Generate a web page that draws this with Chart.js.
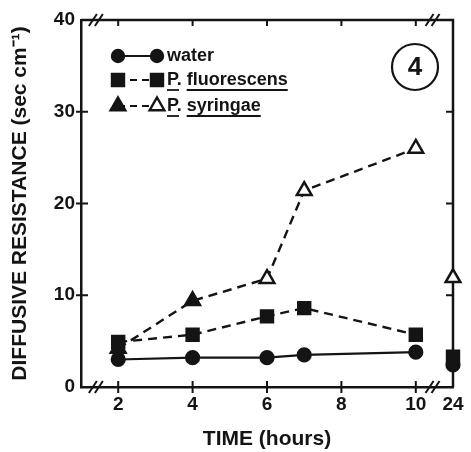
<!DOCTYPE html>
<html>
<head>
<meta charset="utf-8">
<script src="https://cdn.jsdelivr.net/npm/chart.js@4.4.1/dist/chart.umd.min.js"></script>
<style>
  html, body { margin: 0; padding: 0; background: #fff; }
  #wrap { width: 471px; height: 452px; }
</style>
</head>
<body>
<div id="wrap"><canvas id="fig" width="471" height="452"></canvas></div>
<script>
// sampling times (hours); the 24 h reading sits after the axis break
const hours = [2, 4, 6, 7, 10, 24];
const water = [3.0, 3.2, 3.2, 3.5, 3.8, 2.4];
const fluorescens = [4.9, 5.7, 7.7, 8.6, 5.7, 3.3];
const syringae = [4.2, 9.4, 11.8, 21.4, 26.0, 11.9];
const syringaeFilled = [true, true, false, false, false, false];
const xTicks = [2, 4, 6, 8, 10, 24];
const yTicks = [0, 10, 20, 30, 40];
const legendLabels = ['water', 'P. fluorescens', 'P. syringae'];
const panelLabel = '4';

const INK = '#141414';
const FONT = "'Liberation Sans', Arial, Helvetica, sans-serif";

// broken time axis: 24 h drawn right after 10 h
const BREAK_AT = 11;
const axisPos = h => (h === 24 ? BREAK_AT : h);
const toPoints = vals => hours.map((h, i) => ({ x: axisPos(h), y: vals[i] }));
// no line across the break
const skipBreak = color => ctx => (hours[ctx.p1DataIndex] === 24 ? 'rgba(0,0,0,0)' : color);

const frame = {
    id: 'frame',
    beforeDatasetsDraw(chart) {
        const { ctx, chartArea: a, scales: { x, y } } = chart;
        ctx.save();
        ctx.strokeStyle = INK;
        ctx.lineWidth = 2.5;
        ctx.lineCap = 'butt';
        // top and right edge of the box
        ctx.beginPath();
        ctx.moveTo(a.left, a.top);
        ctx.lineTo(a.right, a.top);
        ctx.lineTo(a.right, a.bottom);
        ctx.stroke();

        ctx.lineWidth = 2;
        xTicks.filter(t => t !== 24).forEach(t => {
            const px = x.getPixelForValue(axisPos(t));
            ctx.beginPath();
            ctx.moveTo(px, a.bottom - 6);
            ctx.lineTo(px, a.bottom + 6);
            ctx.moveTo(px, a.top);
            ctx.lineTo(px, a.top + 6);
            ctx.stroke();
        });
        yTicks.filter(t => t > 0 && t < 40).forEach(t => {
            const py = y.getPixelForValue(t);
            ctx.beginPath();
            ctx.moveTo(a.left - 5, py);
            ctx.lineTo(a.left + 7, py);
            ctx.moveTo(a.right, py);
            ctx.lineTo(a.right - 7, py);
            ctx.stroke();
        });

        // break marks "//"
        const breaks = [1.4, 10.45];
        [a.bottom, a.top].forEach(edge => {
            breaks.forEach(b => {
                const px = x.getPixelForValue(b);
                [-3, 3].forEach(d => {
                    ctx.beginPath();
                    ctx.moveTo(px + d - 4, edge + 6);
                    ctx.lineTo(px + d + 4, edge - 6);
                    ctx.stroke();
                });
            });
        });
        ctx.restore();
    },
    afterDraw(chart) {
        const { ctx } = chart;
        const draw = Chart.helpers.drawPoint;
        ctx.save();
        // legend
        const rows = [
            { style: 'circle', r: 6, dash: [], fills: [INK, INK], y: 56 },
            { style: 'rect', r: 8.5, dash: [7, 5], fills: [INK, INK], y: 80 },
            { style: 'triangle', r: 8.5, dash: [7, 5], fills: [INK, '#fff'], y: 106 }
        ];
        const x0 = 118, x1 = 157, tx = 167;
        rows.forEach((row, i) => {
            ctx.strokeStyle = INK;
            ctx.lineWidth = 2.2;
            ctx.setLineDash(row.dash);
            ctx.beginPath();
            ctx.moveTo(x0, row.y);
            ctx.lineTo(x1, row.y);
            ctx.stroke();
            ctx.setLineDash([]);
            [x0, x1].forEach((px, k) => {
                ctx.fillStyle = row.fills[k];
                ctx.strokeStyle = INK;
                ctx.lineWidth = 2.4;
                draw(ctx, { pointStyle: row.style, radius: row.r, borderWidth: 2.4 }, px, row.y);
                if (row.fills[k] !== '#fff') ctx.fill();
            });
            ctx.fillStyle = INK;
            ctx.font = 'bold 18px ' + FONT;
            ctx.textBaseline = 'middle';
            ctx.textAlign = 'left';
            ctx.fillText(legendLabels[i], tx, row.y);
            if (i > 0) {
                // species names are underlined word by word
                let cx = tx;
                ctx.lineWidth = 1.8;
                legendLabels[i].split(' ').forEach(w => {
                    const full = ctx.measureText(w + ' ').width;
                    const ul = ctx.measureText(w.replace(/\.$/, '')).width;
                    ctx.beginPath();
                    ctx.moveTo(cx, row.y + 10);
                    ctx.lineTo(cx + ul, row.y + 10);
                    ctx.stroke();
                    cx += full;
                });
            }
        });

        // panel number in a circle
        ctx.lineWidth = 2.2;
        ctx.strokeStyle = INK;
        ctx.beginPath();
        ctx.arc(415, 67, 23, 0, Math.PI * 2);
        ctx.stroke();
        ctx.fillStyle = INK;
        ctx.font = 'bold 26px ' + FONT;
        ctx.textAlign = 'center';
        ctx.textBaseline = 'middle';
        ctx.fillText(panelLabel, 415, 68);
        ctx.restore();
    }
};

new Chart(document.getElementById('fig'), {
    type: 'scatter',
    data: {
        datasets: [{
            label: legendLabels[0],
            data: toPoints(water),
            showLine: true,
            borderColor: INK,
            borderWidth: 2.2,
            pointStyle: 'circle',
            pointRadius: 6.5,
            pointBackgroundColor: INK,
            pointBorderColor: INK,
            segment: { borderColor: skipBreak(INK) },
            clip: false
        }, {
            label: legendLabels[1],
            data: toPoints(fluorescens),
            showLine: true,
            borderColor: INK,
            borderWidth: 2.4,
            borderDash: [9, 6],
            pointStyle: 'rect',
            pointRadius: 8.5,
            pointBackgroundColor: INK,
            pointBorderColor: INK,
            segment: { borderColor: skipBreak(INK) },
            clip: false
        }, {
            label: legendLabels[2],
            data: toPoints(syringae),
            showLine: true,
            borderColor: INK,
            borderWidth: 2.4,
            borderDash: [9, 6],
            pointStyle: 'triangle',
            pointRadius: 8.5,
            pointBorderWidth: 2.5,
            pointBackgroundColor: syringaeFilled.map(f => (f ? INK : '#fff')),
            pointBorderColor: INK,
            segment: { borderColor: skipBreak(INK) },
            clip: false
        }]
    },
    options: {
        responsive: false,
        devicePixelRatio: 1,
        animation: false,
        layout: { padding: { top: 20, right: 18, left: 0, bottom: 0 } },
        plugins: { legend: { display: false }, tooltip: { enabled: false } },
        scales: {
            x: {
                type: 'linear',
                min: 1,
                max: BREAK_AT,
                afterBuildTicks: s => { s.ticks = xTicks.map(t => ({ value: axisPos(t) })); },
                afterFit: s => { s.height = 65; },
                ticks: {
                    color: INK,
                    font: { family: FONT, size: 19, weight: 'bold' },
                    padding: 6,
                    maxRotation: 0,
                    autoSkip: false,
                    callback: v => (v === BREAK_AT ? '24' : v)
                },
                grid: { drawOnChartArea: false, drawTicks: false },
                border: { color: INK, width: 2.5 },
                title: {
                    display: true,
                    text: 'TIME (hours)',
                    color: INK,
                    font: { family: FONT, size: 21, weight: 'bold' },
                    padding: { top: 3, bottom: 0 }
                }
            },
            y: {
                min: 0,
                max: 40,
                afterBuildTicks: s => { s.ticks = yTicks.map(t => ({ value: t })); },
                afterFit: s => { s.width = 81; },
                ticks: {
                    color: INK,
                    font: { family: FONT, size: 19, weight: 'bold' },
                    padding: 6
                },
                grid: { drawOnChartArea: false, drawTicks: false },
                border: { color: INK, width: 2.5 },
                title: {
                    display: true,
                    text: 'DIFFUSIVE RESISTANCE (sec cm\u207B\u00B9)',
                    color: INK,
                    font: { family: FONT, size: 21, weight: 'bold' },
                    padding: { top: 8, bottom: 0 }
                }
            }
        }
    },
    plugins: [frame]
});
</script>
</body>
</html>
